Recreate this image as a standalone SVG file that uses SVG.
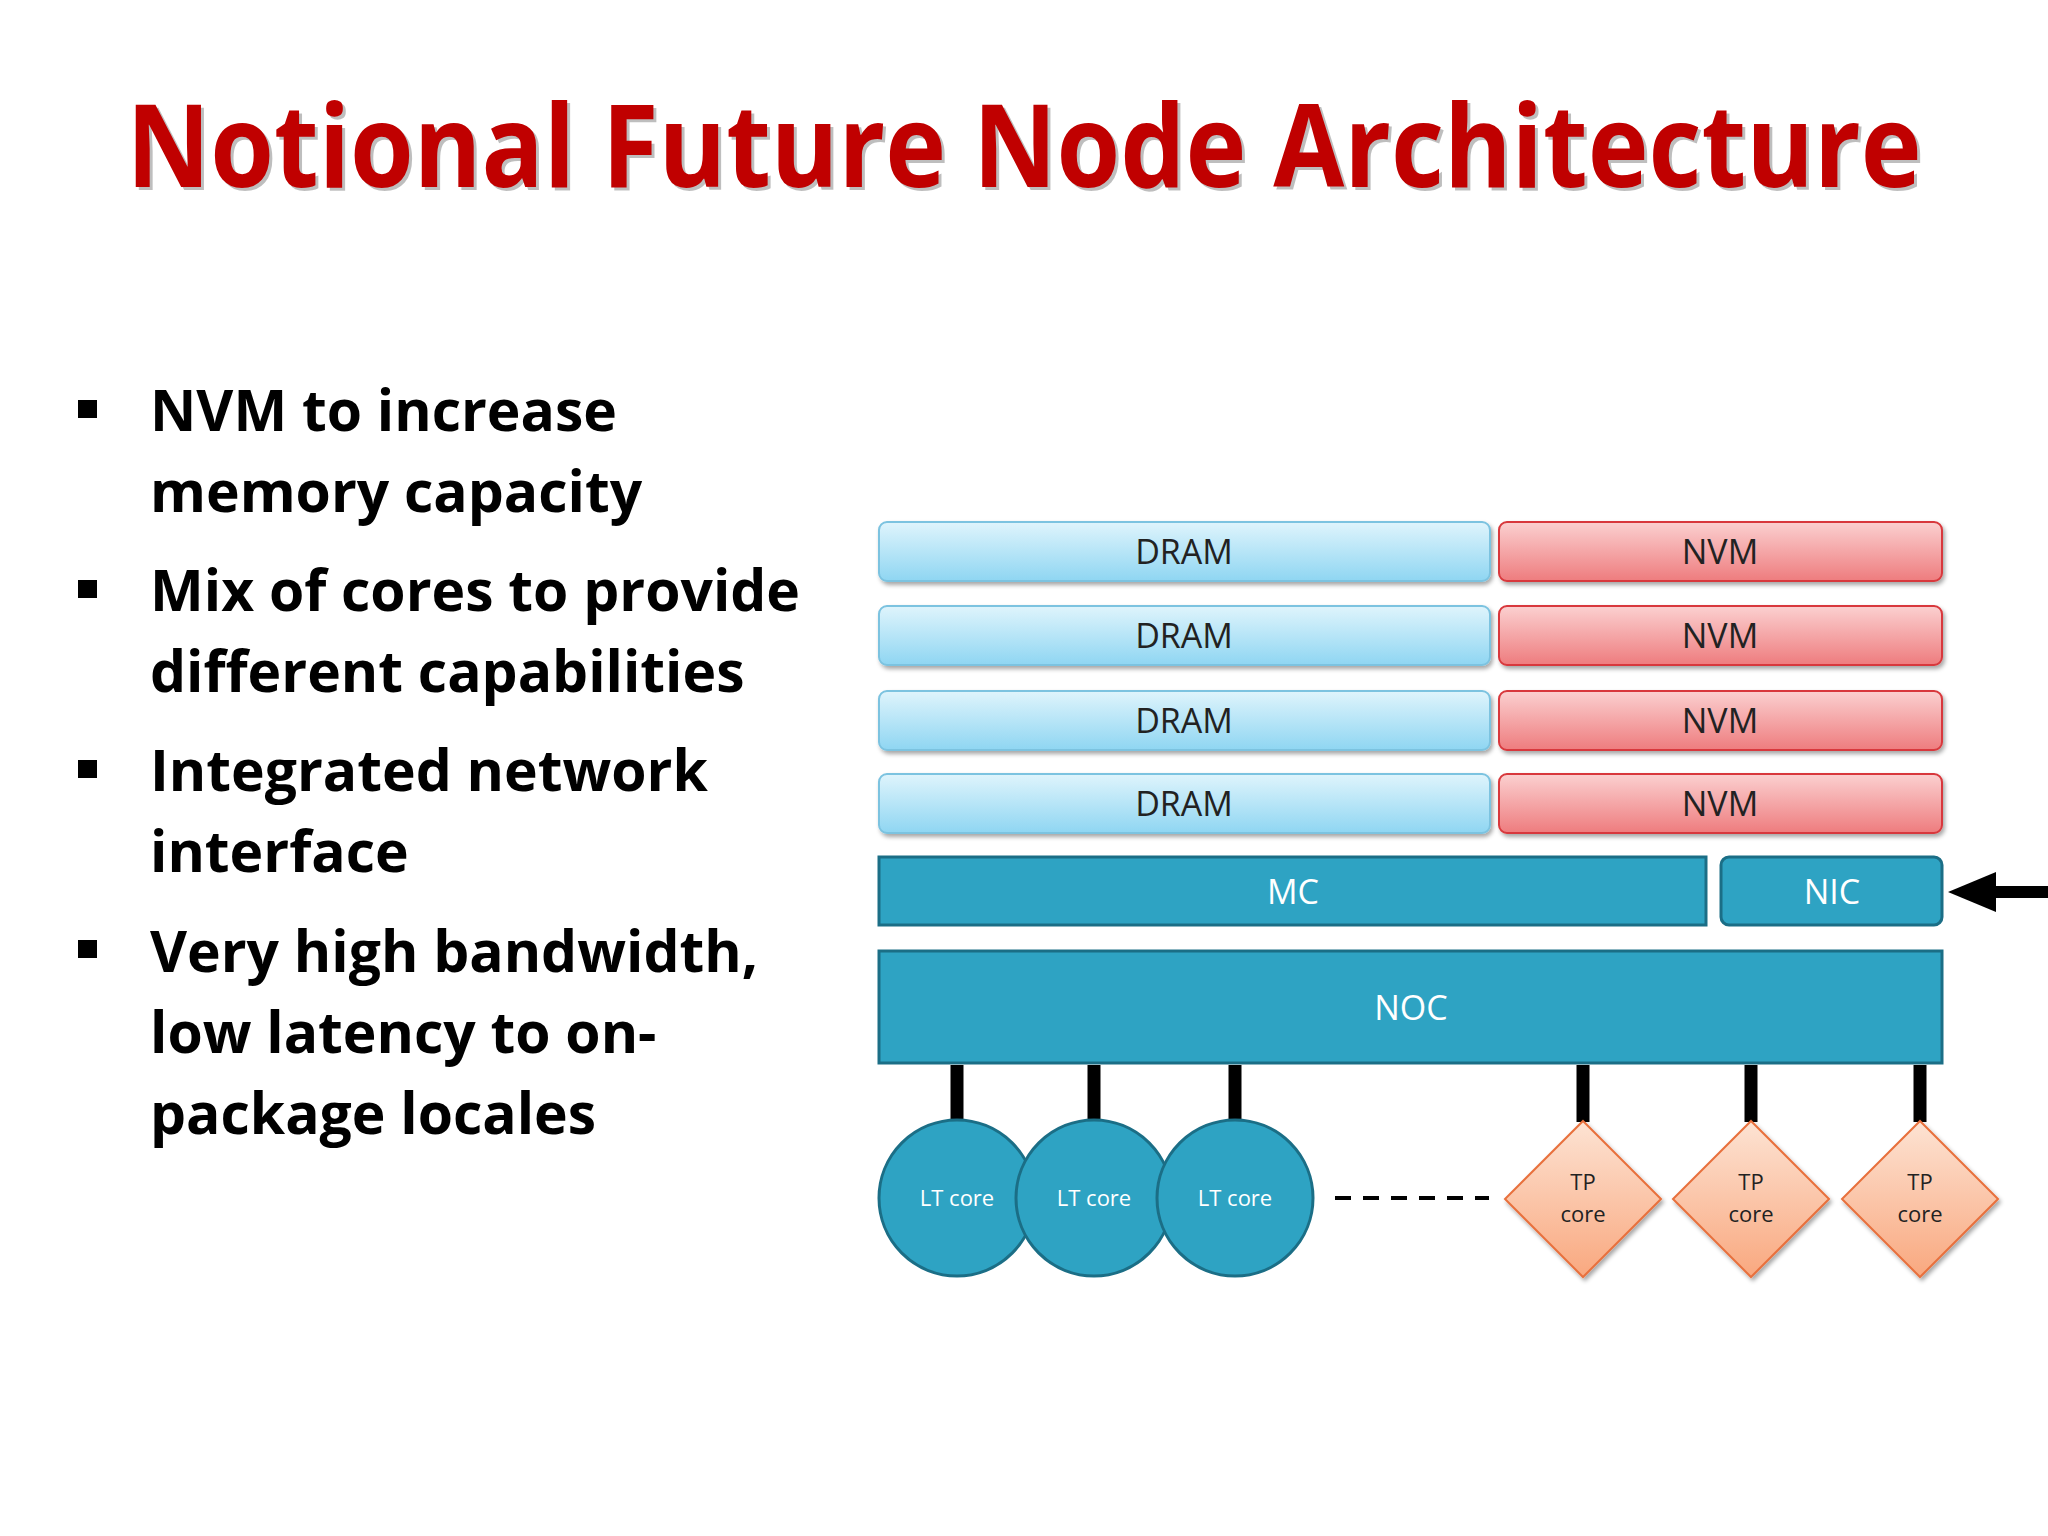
<svg xmlns="http://www.w3.org/2000/svg" width="2048" height="1536" viewBox="0 0 2048 1536">
<defs>
<linearGradient id="gb" x1="0" y1="0" x2="0" y2="1"><stop offset="0" stop-color="#dff4fc"/><stop offset="1" stop-color="#8fd6f2"/></linearGradient>
<linearGradient id="gr" x1="0" y1="0" x2="0" y2="1"><stop offset="0" stop-color="#fbd0d0"/><stop offset="1" stop-color="#ee7c7e"/></linearGradient>
<linearGradient id="go" x1="0" y1="0" x2="0" y2="1"><stop offset="0" stop-color="#fde3d3"/><stop offset="1" stop-color="#f9a87f"/></linearGradient>
<filter id="sh" x="-5%" y="-20%" width="110%" height="140%"><feDropShadow dx="2" dy="3" stdDeviation="2" flood-opacity="0.35"/></filter>
<marker id="ah" markerUnits="userSpaceOnUse" markerWidth="48" markerHeight="40" refX="2" refY="20" orient="auto"><path d="M0,0 L48,20 L0,40 z" fill="#000"/></marker>
</defs>
<style>
text{font-family:"Open Sans","Noto Sans",sans-serif}
.bl{font-size:57px;font-weight:bold;fill:#000}
.dram{fill:url(#gb);stroke:#7cc3e0;stroke-width:2}
.nvm{fill:url(#gr);stroke:#d8383c;stroke-width:2}
.teal{fill:#2ea3c3;stroke:#1b6e86;stroke-width:3}
.lt{font-size:34px;fill:#222;text-anchor:middle}
.wt{font-size:34px;fill:#fff;text-anchor:middle}
.core{fill:#2ea3c3;stroke:#1b6e86;stroke-width:3}
.tp{fill:url(#go);stroke:#e8703c;stroke-width:2}
.ct{font-size:22px;fill:#fff;text-anchor:middle}
.tt{font-size:22px;fill:#222;text-anchor:middle}
</style>
<rect width="2048" height="1536" fill="#fff"/>
<text x="1027" y="190" text-anchor="middle" font-size="114" font-weight="bold" fill="#000" opacity="0.25" textLength="1795" lengthAdjust="spacingAndGlyphs">Notional Future Node Architecture</text>
<text x="1024" y="187" text-anchor="middle" font-size="114" font-weight="bold" fill="#c00000" textLength="1795" lengthAdjust="spacingAndGlyphs">Notional Future Node Architecture</text>
<g fill="#000"><rect x="78" y="400" width="19" height="18"/><rect x="78" y="580" width="19" height="18"/><rect x="78" y="760" width="19" height="18"/><rect x="78" y="940" width="19" height="18"/></g>
<text class="bl" x="150" y="431">NVM to increase</text>
<text class="bl" x="150" y="512">memory capacity</text>
<text class="bl" x="150" y="611">Mix of cores to provide</text>
<text class="bl" x="150" y="692">different capabilities</text>
<text class="bl" x="150" y="791">Integrated network</text>
<text class="bl" x="150" y="872">interface</text>
<text class="bl" x="150" y="972">Very high bandwidth,</text>
<text class="bl" x="150" y="1053">low latency to on-</text>
<text class="bl" x="150" y="1134">package locales</text>
<g id="dram1"><rect class="dram" x="879" y="522" width="611" height="59" rx="8" filter="url(#sh)"/><text class="lt" x="1184" y="564">DRAM</text></g>
<g id="dram2"><rect class="dram" x="879" y="606" width="611" height="59" rx="8" filter="url(#sh)"/><text class="lt" x="1184" y="648">DRAM</text></g>
<g id="dram3"><rect class="dram" x="879" y="691" width="611" height="59" rx="8" filter="url(#sh)"/><text class="lt" x="1184" y="733">DRAM</text></g>
<g id="dram4"><rect class="dram" x="879" y="774" width="611" height="59" rx="8" filter="url(#sh)"/><text class="lt" x="1184" y="816">DRAM</text></g>
<g id="nvm1"><rect class="nvm" x="1499" y="522" width="443" height="59" rx="8" filter="url(#sh)"/><text class="lt" x="1720" y="564">NVM</text></g>
<g id="nvm2"><rect class="nvm" x="1499" y="606" width="443" height="59" rx="8" filter="url(#sh)"/><text class="lt" x="1720" y="648">NVM</text></g>
<g id="nvm3"><rect class="nvm" x="1499" y="691" width="443" height="59" rx="8" filter="url(#sh)"/><text class="lt" x="1720" y="733">NVM</text></g>
<g id="nvm4"><rect class="nvm" x="1499" y="774" width="443" height="59" rx="8" filter="url(#sh)"/><text class="lt" x="1720" y="816">NVM</text></g>
<g id="mc"><rect class="teal" x="879" y="857" width="827" height="68"/><text class="wt" x="1293" y="904">MC</text></g>
<g id="nic"><rect class="teal" x="1721" y="857" width="221" height="68" rx="8"/><text class="wt" x="1832" y="904">NIC</text></g>
<g id="noc"><rect class="teal" x="879" y="951" width="1063" height="112"/><text class="wt" x="1411" y="1020">NOC</text></g>
<g id="connectors" stroke="#000">
<line x1="2048" y1="892" x2="1994" y2="892" stroke-width="12" marker-end="url(#ah)"/>
<g stroke-width="13"><line x1="957" y1="1065" x2="957" y2="1122"/><line x1="1094" y1="1065" x2="1094" y2="1122"/><line x1="1235" y1="1065" x2="1235" y2="1122"/><line x1="1583" y1="1065" x2="1583" y2="1122"/><line x1="1751" y1="1065" x2="1751" y2="1122"/><line x1="1920" y1="1065" x2="1920" y2="1122"/></g>
<line x1="1335" y1="1198" x2="1489" y2="1198" stroke-width="4" stroke-dasharray="16,12"/>
</g>
<g id="lt1"><circle class="core" cx="957" cy="1198" r="78"/><text class="ct" x="957" y="1206">LT core</text></g>
<g id="lt2"><circle class="core" cx="1094" cy="1198" r="78"/><text class="ct" x="1094" y="1206">LT core</text></g>
<g id="lt3"><circle class="core" cx="1235" cy="1198" r="78"/><text class="ct" x="1235" y="1206">LT core</text></g>
<g id="tp1"><polygon class="tp" points="1583,1121 1661,1199 1583,1277 1505,1199" filter="url(#sh)"/><text class="tt" x="1583" y="1190">TP</text><text class="tt" x="1583" y="1222">core</text></g>
<g id="tp2"><polygon class="tp" points="1751,1121 1829,1199 1751,1277 1673,1199" filter="url(#sh)"/><text class="tt" x="1751" y="1190">TP</text><text class="tt" x="1751" y="1222">core</text></g>
<g id="tp3"><polygon class="tp" points="1920,1121 1998,1199 1920,1277 1842,1199" filter="url(#sh)"/><text class="tt" x="1920" y="1190">TP</text><text class="tt" x="1920" y="1222">core</text></g>
</svg>
